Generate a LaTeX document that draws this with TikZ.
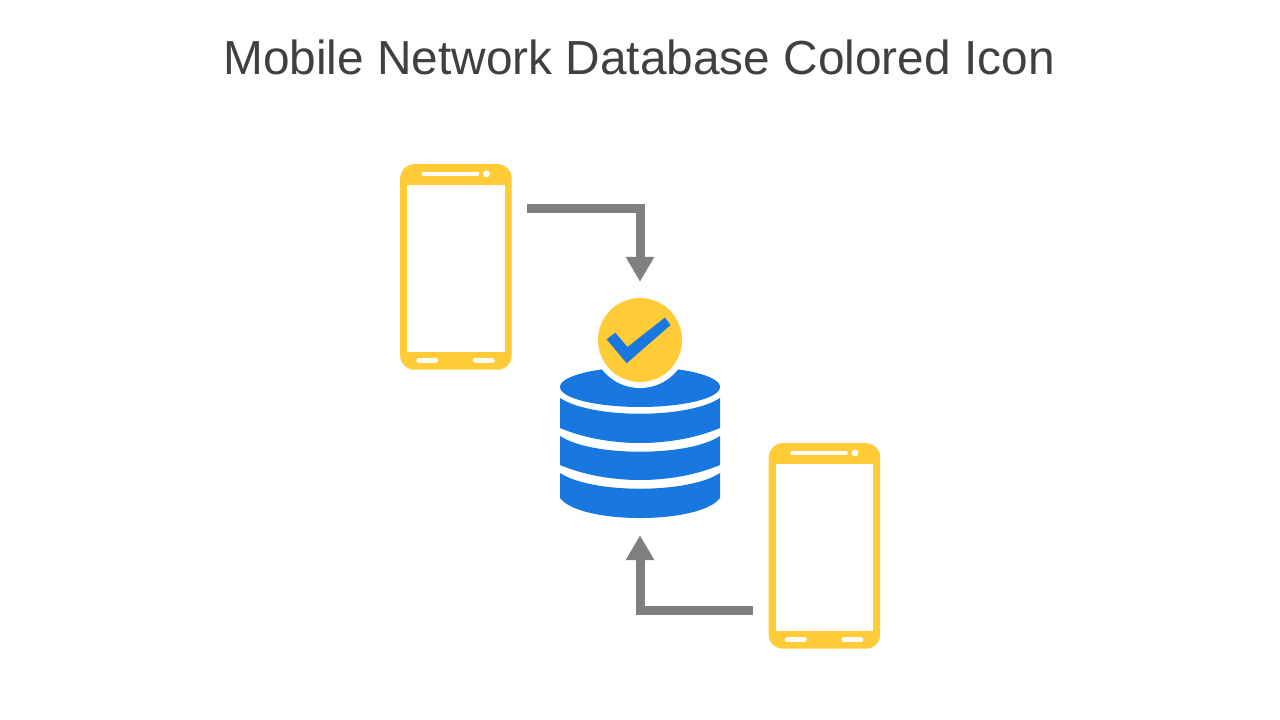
\documentclass[tikz,border=0pt]{standalone}
\usepackage{fontspec}
\setmainfont{Liberation Sans}
\usetikzlibrary{arrows.meta}
\definecolor{phoneyellow}{HTML}{FFCB37}
\definecolor{dbblue}{HTML}{1878DF}
\definecolor{flowgray}{HTML}{7F7F7F}
\definecolor{titlegray}{HTML}{404040}
\tikzset{
  phonebody/.style={fill=phoneyellow, rounded corners=14pt, minimum width=111.5pt, minimum height=205.5pt, inner sep=0pt},
  flowline/.style={draw=flowgray, line width=9pt, -{Triangle[length=25pt,width=27pt]}},
  pill/.style={white, line width=5.5pt, line cap=round}
}
\begin{document}
\begin{tikzpicture}[x=1pt,y=-1pt]
    \useasboundingbox (0,0) rectangle (1280,720);
    \fill [white] (0,0) rectangle (1280,720);
    \node[text=titlegray, font=\fontsize{47.8pt}{52pt}\selectfont] (title) at (639,57) {Mobile Network Database Colored Icon};
    % phones
    \foreach \name/\x/\y in {phonetop/400/164, phonebottom/768.5/443} {
      \node[phonebody, anchor=north west] (\name) at (\x,\y) {};
      \begin{scope}[shift={(\x,\y)}]
        \fill [white] (7,21) rectangle (104.5,188.3);
        \draw [white, line width=3.5pt, line cap=round] (23.5,10) -- (77.5,10);
        \fill [white] (86.5,10) circle (3.4);
        \draw [pill] (19,196.5) -- (35.5,196.5);
        \draw [pill] (75.5,196.5) -- (92,196.5);
      \end{scope}
    }
    % database
    \node[minimum width=160pt, minimum height=152pt, inner sep=0pt] (db) at (640,442) {};
    \fill [dbblue] (640,387) ellipse [x radius=80, y radius=20];
    \foreach \ya/\yb/\hb/\cb in {398/428/20/48, 436/465/20/48, 473/498/26.7/20} {
      \fill [dbblue] (560,\ya) .. controls (592,\ya+21) and (688,\ya+21) .. (720,\ya)
        -- (720,\yb) .. controls (720-\cb,\yb+\hb) and (560+\cb,\yb+\hb) .. (560,\yb) -- cycle;
    }
    % badge
    \fill [white] (640,340) circle (48);
    \node[circle, fill=phoneyellow, minimum size=84pt, inner sep=0pt] (badge) at (640,340) {};
    \fill [dbblue] (606.7,339.3) -- (615.2,332.7) -- (627.5,347) -- (665,317.5) -- (670.5,325) -- (626.7,363.3) -- cycle;
    % connectors
    \coordinate (outtop) at (527,208.5);
    \coordinate (outbottom) at (753,610);
    \draw [flowline, shorten >=16pt] (outtop) -| (badge.north);
    \draw [flowline, shorten >=17pt] (outbottom) -| (db.south);
\end{tikzpicture}
\end{document}
